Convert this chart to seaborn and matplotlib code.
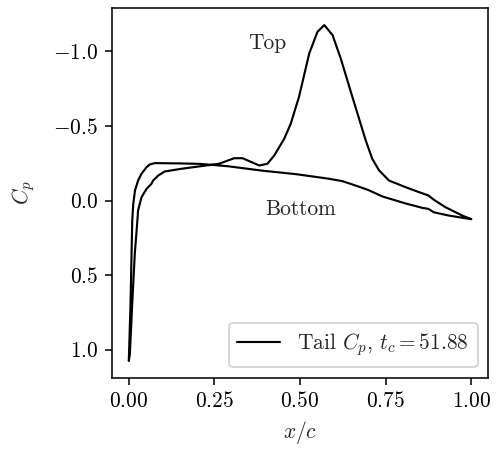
import pandas as pd
import matplotlib
matplotlib.use("Agg")
import matplotlib.pyplot as plt
import seaborn as sns

# Datos (x/c, Cp)
x_top = [0.003, 0.010, 0.0175, 0.025, 0.027, 0.037, 0.052, 0.066, 0.071, 0.086,
         0.105, 0.154, 0.264, 0.308, 0.332, 0.381, 0.405, 0.425, 0.454, 0.473,
         0.497, 0.527, 0.551, 0.571, 0.595, 0.619, 0.653, 0.692, 0.711, 0.731,
         0.760, 0.809, 0.848, 0.875, 0.891, 0.925, 0.974, 1.000]
cp_top = [1.03, 0.69, 0.356, 0.134, 0.067, -0.022, -0.079, -0.112, -0.134, -0.168,
          -0.195, -0.213, -0.247, -0.284, -0.284, -0.235, -0.247, -0.303, -0.415, -0.516,
          -0.695, -0.987, -1.132, -1.177, -1.110, -0.953, -0.695, -0.403, -0.280, -0.202,
          -0.134, -0.089, -0.056, -0.034, -0.005, 0.045, 0.101, 0.125]

x_bot = [0.000, 0.005, 0.010, 0.013, 0.018, 0.027, 0.037, 0.052, 0.061, 0.076,
         0.150, 0.206, 0.255, 0.293, 0.391, 0.488, 0.585, 0.624, 0.663, 0.700,
         0.741, 0.809, 0.857, 0.875, 0.891, 0.935, 1.000]
cp_bot = [1.076, 0.69, 0.134, 0.022, -0.067, -0.134, -0.180, -0.224, -0.242, -0.251,
          -0.249, -0.246, -0.237, -0.229, -0.200, -0.177, -0.146, -0.130, -0.100, -0.070,
          -0.027, 0.020, 0.049, 0.056, 0.079, 0.101, 0.125]

t_c = 51.88

# Recorrido: borde de salida -> borde de ataque por arriba, luego por abajo
df = pd.DataFrame({
    "x": x_top[::-1] + x_bot,
    "cp": cp_top[::-1] + cp_bot,
})

sns.set_style("ticks")
plt.rcParams.update({
    "font.family": "serif",
    "font.serif": ["cmr10"],
    "mathtext.fontset": "cm",
    "axes.formatter.use_mathtext": True,
    "axes.unicode_minus": True,
    "font.size": 11,
    "axes.linewidth": 0.8,
    "xtick.major.width": 0.8,
    "ytick.major.width": 0.8,
    "xtick.major.size": 3.5,
    "ytick.major.size": 3.5,
    "xtick.direction": "out",
    "ytick.direction": "out",
    "axes.edgecolor": "black",
    "xtick.color": "black",
    "ytick.color": "black",
})

fig, ax = plt.subplots(figsize=(496 / 140, 449 / 140), dpi=140)
fig.subplots_adjust(left=0.2252, right=0.9845, bottom=0.1588, top=0.9815)

sns.lineplot(data=df, x="x", y="cp", sort=False, color="black", linewidth=1.1,
             estimator=None, label=r"Tail $C_p$, $t_c = %.2f$" % t_c, ax=ax)

ax.invert_yaxis()
ax.set_xticks([0.0, 0.25, 0.5, 0.75, 1.0])
ax.set_yticks([-1.0, -0.5, 0.0, 0.5, 1.0])
ax.set_xlabel(r"$x/c$")
ax.set_ylabel(r"$C_p$", labelpad=8)

ax.text(0.349, -1.015, "Top")
ax.text(0.40, 0.096, "Bottom")

ax.legend(loc="lower right")

plt.savefig("out.png", dpi=140)
